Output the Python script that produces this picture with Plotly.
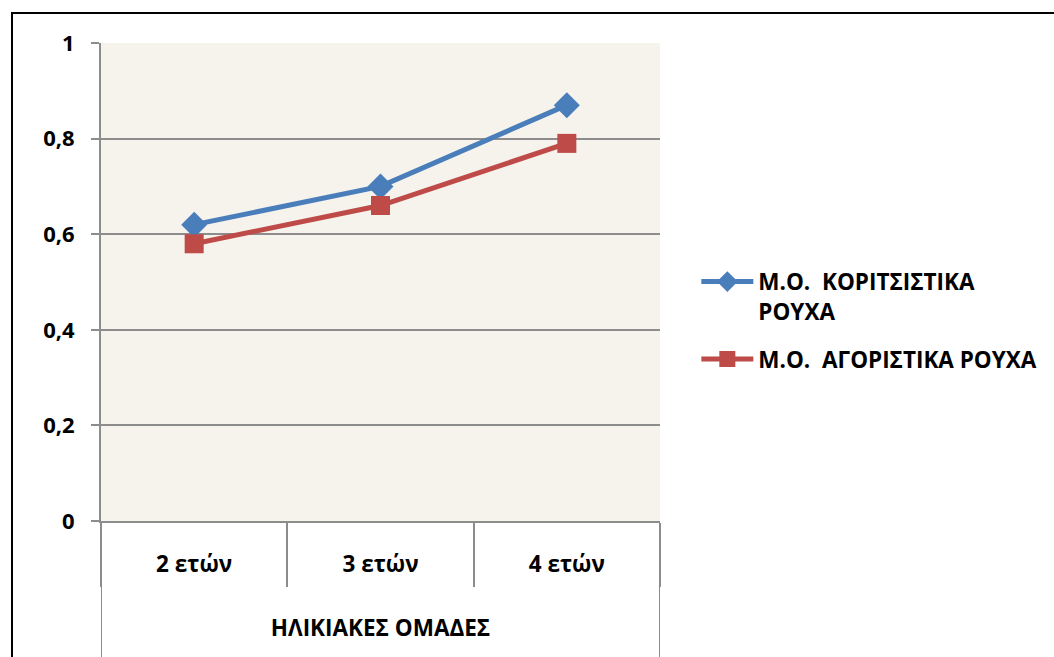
import plotly.graph_objects as go

group_label = "ΗΛΙΚΙΑΚΕΣ ΟΜΑΔΕΣ"
categories = ["2 ετών", "3 ετών", "4 ετών"]
girls = [0.62, 0.70, 0.87]
boys = [0.58, 0.66, 0.79]
series_names = ["Μ.Ο.  ΚΟΡΙΤΣΙΣΤΙΚΑ<br>ΡΟΥΧΑ", "Μ.Ο.  ΑΓΟΡΙΣΤΙΚΑ ΡΟΥΧΑ"]
y_ticks = [0, 0.2, 0.4, 0.6, 0.8, 1]

FONT = "Open Sans"
GRID = "#8C8C8C"

fig = go.Figure()
fig.add_trace(go.Scatter(
    x=categories, y=girls, name=series_names[0], mode="lines+markers",
    legendgroup="g",
    line=dict(color="#4A7EBB", width=5),
    marker=dict(symbol="diamond", size=20, color="#4A7EBB"),
))
fig.add_trace(go.Scatter(
    x=categories, y=boys, name=series_names[1], mode="lines+markers",
    legendgroup="b",
    line=dict(color="#BE4B48", width=5),
    marker=dict(symbol="square", size=19, color="#BE4B48"),
))

# outer group boundaries (full height, Excel multi-level category style)
for b in [-0.5, len(categories) - 0.5]:
    fig.add_shape(type="line", xref="x", yref="paper", x0=b, x1=b, y0=0, y1=-0.32,
                  line=dict(color=GRID, width=2), layer="below")

# outer chart border
fig.add_shape(type="rect", xref="paper", yref="paper",
              x0=-0.1592, x1=1.72, y0=1.0628, y1=-0.34,
              line=dict(color="black", width=2), fillcolor="rgba(0,0,0,0)")

fig.update_layout(
    width=1054, height=657,
    margin=dict(l=101, r=394, t=43, b=136),
    paper_bgcolor="white",
    plot_bgcolor="#F6F2EC",
    separators=", ",
    font=dict(family=FONT, size=20, color="black"),
    showlegend=True,
    legend=dict(
        x=1.065, y=0.545, xanchor="left", yanchor="top",
        font=dict(family=FONT, size=22.5, color="black", weight="bold"),
        itemwidth=52, tracegroupgap=16, valign="top",
        bgcolor="rgba(0,0,0,0)",
    ),
    xaxis=dict(
        type="category",
        range=[-0.5, len(categories) - 0.5],
        showgrid=False,
        showline=True, linecolor=GRID, linewidth=2,
        ticks="outside", tickson="boundaries", ticklen=64,
        tickcolor=GRID, tickwidth=2,
        ticklabelstandoff=22,
        tickfont=dict(family=FONT, size=22.5, color="black", weight="bold"),
        title=dict(text=group_label, standoff=42,
                   font=dict(family=FONT, size=22.5, color="black", weight="bold")),
    ),
    yaxis=dict(
        range=[0, 1],
        tickvals=y_ticks,
        tickformat=".1~f",
        showgrid=True, gridcolor=GRID, gridwidth=2,
        showline=True, linecolor=GRID, linewidth=2,
        ticks="outside", ticklen=8, tickcolor=GRID, tickwidth=2,
        zeroline=False,
        tickfont=dict(family=FONT, size=22, color="black", weight="bold"),
        ticklabelstandoff=12,
    ),
)

fig.write_html("out.html", config={"displayModeBar": False},
               post_script="document.body.style.margin='0px';")
